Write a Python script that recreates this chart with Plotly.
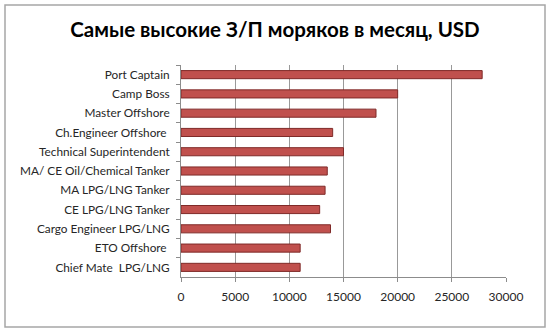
import plotly.graph_objects as go

categories = [
    "Port Captain",
    "Camp Boss",
    "Master Offshore",
    "Ch.Engineer Offshore ",
    "Technical Superintendent",
    "MA/ CE Oil/Chemical Tanker",
    "MA LPG/LNG Tanker",
    "CE LPG/LNG Tanker",
    "Cargo Engineer LPG/LNG",
    "ETO Offshore ",
    "Chief Mate  LPG/LNG",
]
salaries = [27800, 20000, 18000, 14000, 15000, 13500, 13300, 12800, 13800, 11000, 11000]
x_ticks = [0, 5000, 10000, 15000, 20000, 25000, 30000]

W, H = 550, 332
ML, MR, MT, MB = 181, 44, 65, 55
pw, ph = W - ML - MR, H - MT - MB

def px_x(p):
    return (p - ML) / pw

def px_y(p):
    return (H - MB - p) / ph

fig = go.Figure()
fig.add_trace(go.Bar(
    y=categories, x=salaries, orientation="h",
    marker=dict(color="#c0504d", line=dict(color="#7f2a28", width=1)),
    width=0.42,
))

fig.update_layout(
    width=W, height=H,
    margin=dict(l=ML, r=MR, t=MT, b=MB),
    paper_bgcolor="white", plot_bgcolor="white",
    font=dict(family="Lato, Open Sans, sans-serif", color="#262626"),
    showlegend=False,
    title=dict(text="<b>Самые высокие З/П моряков в месяц, USD</b>",
               x=0.5, xref="container", xanchor="center",
               y=1 - 30 / H, yref="container", yanchor="middle",
               font=dict(size=20.5, color="#000000")),
    xaxis=dict(range=[0, 30000], tickvals=x_ticks,
               ticktext=[str(v) for v in x_ticks],
               showgrid=True, gridcolor="#999999", gridwidth=1,
               zeroline=False, showline=True, linecolor="#8c8c8c",
               ticks="outside", ticklen=4, tickcolor="#8c8c8c",
               ticklabelstandoff=5,
               tickfont=dict(size=12, color="#262626")),
    yaxis=dict(autorange="reversed", showline=True, linecolor="#8c8c8c",
               ticks="outside", ticklen=4, tickcolor="#8c8c8c",
               tickson="boundaries", showgrid=False,
               ticklabelstandoff=8,
               tickfont=dict(size=11.8, color="#262626")),
    shapes=[dict(type="rect", xref="paper", yref="paper",
                 x0=px_x(5), x1=px_x(545), y0=px_y(327), y1=px_y(5),
                 line=dict(color="#a6a6a6", width=1.5), fillcolor="rgba(0,0,0,0)",
                 layer="below")],
)

fig.write_html("out.html")
